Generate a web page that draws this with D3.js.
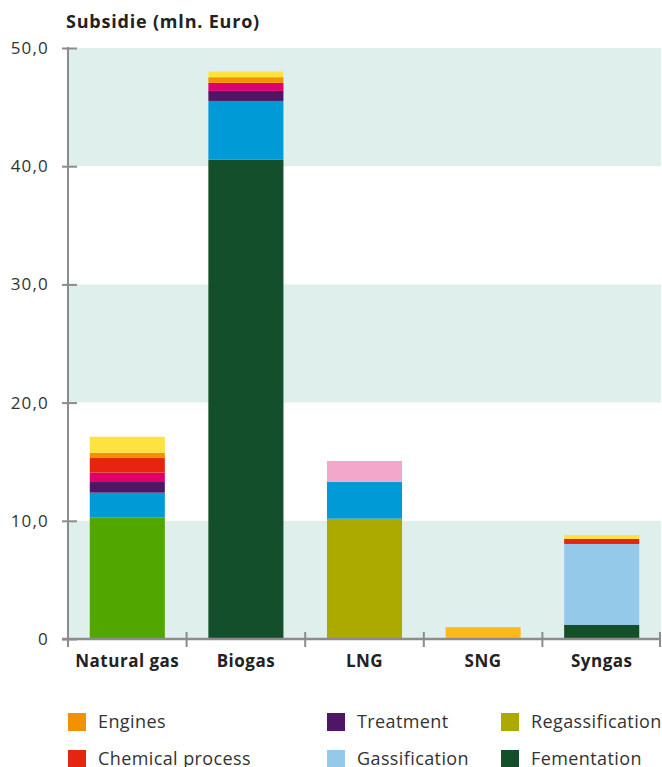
<!DOCTYPE html>
<html>
<head>
<meta charset="utf-8">
<script src="https://cdn.jsdelivr.net/npm/d3@7"></script>
<style>
  html, body { margin: 0; padding: 0; background: #fff; }
  svg { display: block; font-family: "Open Sans", "Noto Sans", sans-serif; }
</style>
</head>
<body>
<svg id="chart" width="662" height="767"></svg>
<script>
// ---- data ----
const categories = ["Natural gas", "Biogas", "LNG", "SNG", "Syngas"];
// stacked bottom -> top
const seriesNames = ["Fermentation", "Lime", "Regassification", "Gassification", "Blue",
                     "Pink", "Treatment", "Magenta", "Chemical process", "Engines", "Gold", "Yellow"];
const fermentation     = [0,     40.55, 0,     0,   1.21];
const lime             = [10.26, 0,     0,     0,   0];
const regassification  = [0,     0,     10.18, 0,   0];
const gassification    = [0,     0,     0,     0,   6.83];
const blue             = [2.12,  4.97,  3.10,  0,   0];
const pink             = [0,     0,     1.78,  0,   0];
const treatment        = [0.90,  0.85,  0,     0,   0];
const magenta          = [0.79,  0.68,  0,     0,   0];
const chemicalProcess  = [1.24,  0,     0,     0,   0.42];
const engines          = [0.45,  0.48,  0,     0,   0];
const gold             = [0,     0,     0,     1.00, 0];
const yellow           = [1.35,  0.48,  0,     0,   0.34];
const seriesValues = [fermentation, lime, regassification, gassification, blue, pink,
                      treatment, magenta, chemicalProcess, engines, gold, yellow];
const seriesColors = ["#134f2b", "#52a600", "#aca900", "#95c9e9", "#009bd6", "#f2a8cb",
                      "#4e1763", "#df006f", "#e5250f", "#f39200", "#fbba1c", "#fee33f"];
const yTicks = [0, 10, 20, 30, 40, 50];
const yTickLabels = ["0", "10,0", "20,0", "30,0", "40,0", "50,0"];
const legendNames = ["Engines", "Treatment", "Regassification", "Chemical process", "Gassification", "Fementation"];
const legendColors = ["#f39200", "#4e1763", "#aca900", "#e5250f", "#95c9e9", "#134f2b"];
const title = "Subsidie (mln. Euro)";

// ---- layout ----
const svg = d3.select("#chart");
const mLeft = 68, mRight = 661, mTop = 48, mBottom = 639;
const axisColor = "#8c8c8c", textColor = "#333";

const x = d3.scaleBand().domain(categories).range([mLeft, mRight]).paddingInner(0.367).paddingOuter(0.1835);
const y = d3.scaleLinear().domain([0, 50]).range([mBottom, mTop]);

// background bands
const bands = [[0, 10], [20, 30], [40, 50]];
svg.append("g").selectAll("rect").data(bands).join("rect")
  .attr("x", mLeft + 1).attr("width", mRight - mLeft - 1)
  .attr("y", d => y(d[1])).attr("height", d => y(d[0]) - y(d[1]))
  .attr("fill", "#dff0ec");

// stacked bars
const table = categories.map((c, i) => {
  const o = { category: c };
  seriesNames.forEach((s, j) => o[s] = seriesValues[j][i]);
  return o;
});
const stacked = d3.stack().keys(seriesNames)(table);
svg.append("g").selectAll("g").data(stacked).join("g")
  .attr("fill", (d, i) => seriesColors[i])
  .selectAll("rect").data(d => d.filter(p => p[1] - p[0] > 0)).join("rect")
  .attr("x", d => x(d.data.category))
  .attr("width", x.bandwidth())
  .attr("y", d => y(d[1]))
  .attr("height", d => y(d[0]) - y(d[1]));

// y axis
const yAxis = svg.append("g").attr("transform", `translate(${mLeft},0)`)
  .call(d3.axisLeft(y).tickValues(yTicks).tickFormat((d, i) => yTickLabels[i]).tickSize(0).tickPadding(19));
yAxis.select(".domain").remove();
yAxis.selectAll("text").attr("fill", textColor).style("font-size", "17px")
  .style("letter-spacing", "1.2px")
  .style("font-family", "'Open Sans', sans-serif");
yAxis.selectAll(".tick line").remove();
yAxis.selectAll(".tick").append("line")
  .attr("x1", -6).attr("x2", 9).attr("stroke", axisColor).attr("stroke-width", 2);
svg.append("line").attr("x1", mLeft).attr("x2", mLeft).attr("y1", mTop - 1).attr("y2", mBottom + 8)
  .attr("stroke", axisColor).attr("stroke-width", 2);

// x axis
svg.append("line").attr("x1", mLeft - 6).attr("x2", mRight).attr("y1", mBottom).attr("y2", mBottom)
  .attr("stroke", axisColor).attr("stroke-width", 2.5);
const step = x.step();
const boundaries = categories.map((c, i) => mLeft + step * (i + 1));
svg.append("g").selectAll("line").data(boundaries).join("line")
  .attr("x1", d => Math.min(d, mRight - 1)).attr("x2", d => Math.min(d, mRight - 1))
  .attr("y1", mBottom - 7).attr("y2", mBottom + 8)
  .attr("stroke", axisColor).attr("stroke-width", 2);
const xAxis = svg.append("g").attr("transform", `translate(0,${mBottom})`)
  .call(d3.axisBottom(x).tickSize(0).tickPadding(16));
xAxis.select(".domain").remove();
xAxis.selectAll("text").attr("fill", "#222").style("font-size", "17px").style("font-weight", "bold")
  .style("letter-spacing", "0.5px")
  .style("font-family", "'Open Sans', sans-serif");

// title
svg.append("text").attr("x", 66).attr("y", 28).text(title)
  .attr("fill", "#222").style("font-size", "18px").style("font-weight", "bold")
  .style("letter-spacing", "0.8px");

// legend
const legCols = [68, 327, 501];
const legRows = [713, 750];
const leg = svg.append("g").selectAll("g").data(legendNames).join("g")
  .attr("transform", (d, i) => `translate(${legCols[i % 3]},${legRows[Math.floor(i / 3)]})`);
leg.append("rect").attr("width", 18).attr("height", 18).attr("fill", (d, i) => legendColors[i]);
leg.append("text").attr("x", 30).attr("y", 15).text(d => d)
  .attr("fill", textColor).style("font-size", "18px").style("letter-spacing", "0.4px");
</script>
</body>
</html>
